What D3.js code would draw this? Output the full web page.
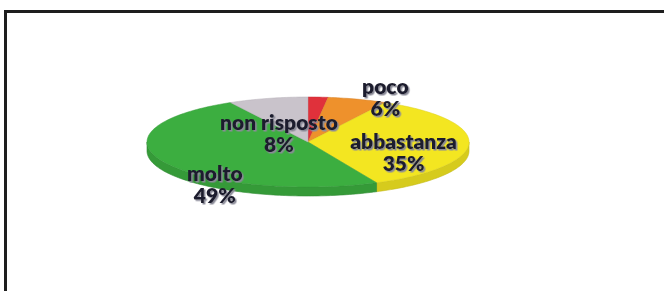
<!DOCTYPE html>
<html>
<head>
<meta charset="utf-8">
<script src="https://cdn.jsdelivr.net/npm/d3@7"></script>
<style>
  body { margin: 0; background: #fff; }
  svg { display: block; }
</style>
</head>
<body>
<div id="chart"></div>
<script>
// dati del grafico
const categories = ["per niente", "poco", "abbastanza", "molto", "non risposto"];
const values = [2, 6, 35, 49, 8];
const showLabel = [false, true, true, true, true];
const sliceColors = ["#e0313b", "#ee912c", "#f3e621", "#3cae40", "#c9c3cb"];

const width = 664, height = 291;
const cx = 308, cy = 142, rx = 161, ry = 45, depth = 9;

// spostamenti delle etichette rispetto al punto sul raggio
const labelNudge = [[0, 0], [45, -17], [-9, 9], [0, 29], [-3, 19]];

const svg = d3.select("#chart").append("svg")
    .attr("width", width)
    .attr("height", height);

const defs = svg.append("defs");
defs.append("filter").attr("id", "ombra")
    .attr("x", "-10%").attr("y", "-20%").attr("width", "120%").attr("height", "140%")
    .append("feDropShadow")
    .attr("dx", 1.5).attr("dy", 1.5).attr("stdDeviation", 0.4)
    .attr("flood-color", "#8a8a98").attr("flood-opacity", 1);

// cornice
svg.append("rect")
    .attr("x", 5.5).attr("y", 11.5)
    .attr("width", width + 10).attr("height", height + 10)
    .attr("fill", "none")
    .attr("stroke", "#1e1e1e")
    .attr("stroke-width", 3);

const data = categories.map((c, i) => ({ cat: c, value: values[i], i: i }));
const pie = d3.pie().value(d => d.value).sort(null);
const arcs = pie(data);

const pt = (t, k, dy) => [cx + rx * k * Math.sin(t), cy - ry * k * Math.cos(t) + (dy || 0)];

const topPath = (a) => {
    let p = d3.path();
    p.moveTo(cx, cy);
    let n = Math.max(2, Math.ceil((a.endAngle - a.startAngle) / 0.02));
    for (let j = 0; j <= n; j++) {
        let t = a.startAngle + (a.endAngle - a.startAngle) * j / n;
        let q = pt(t, 1);
        p.lineTo(q[0], q[1]);
    }
    p.closePath();
    return p.toString();
};

const sidePath = (a) => {
    let s = Math.max(a.startAngle, Math.PI / 2);
    let e = Math.min(a.endAngle, Math.PI * 1.5);
    if (e <= s) return null;
    let n = Math.max(2, Math.ceil((e - s) / 0.02));
    let top = [], bot = [];
    for (let j = 0; j <= n; j++) {
        let t = s + (e - s) * j / n;
        top.push(pt(t, 1));
        bot.push(pt(t, 1, depth));
    }
    return "M" + top.concat(bot.reverse()).map(q => q.join(",")).join("L") + "Z";
};

let g = svg.append("g");

g.selectAll(".side")
    .data(arcs.filter(a => sidePath(a)))
    .enter().append("path")
    .attr("class", "side")
    .attr("d", sidePath)
    .attr("fill", a => d3.color(sliceColors[a.index]).darker(0.35))
    .attr("stroke", a => d3.color(sliceColors[a.index]).darker(0.6))
    .attr("stroke-width", 0.6);

g.selectAll(".top")
    .data(arcs)
    .enter().append("path")
    .attr("class", "top")
    .attr("d", topPath)
    .attr("fill", a => sliceColors[a.index])
    .attr("stroke", a => d3.color(sliceColors[a.index]).darker(0.3))
    .attr("stroke-width", 0.5);

// etichette
const fmt = d3.format(".0f");
const total = d3.sum(values);
const labels = svg.selectAll(".lbl")
    .data(arcs.filter(a => showLabel[a.index]))
    .enter().append("text")
    .attr("class", "lbl")
    .attr("text-anchor", "middle")
    .attr("filter", "url(#ombra)")
    .attr("transform", a => {
        let mid = (a.startAngle + a.endAngle) / 2;
        let q = pt(mid, 0.65);
        let nd = labelNudge[a.index];
        return `translate(${q[0] + nd[0]},${q[1] + nd[1]})`;
    })
    .style("font-family", "Lato, 'Noto Sans', sans-serif")
    .style("font-weight", 800)
    .style("font-size", "21px")
    .attr("fill", "#1d1d2d");

labels.append("tspan").attr("x", 0).attr("y", -3).text(a => a.data.cat);
labels.append("tspan").attr("x", 0).attr("y", 19).text(a => fmt(a.value / total * 100) + "%");
</script>
</body>
</html>
